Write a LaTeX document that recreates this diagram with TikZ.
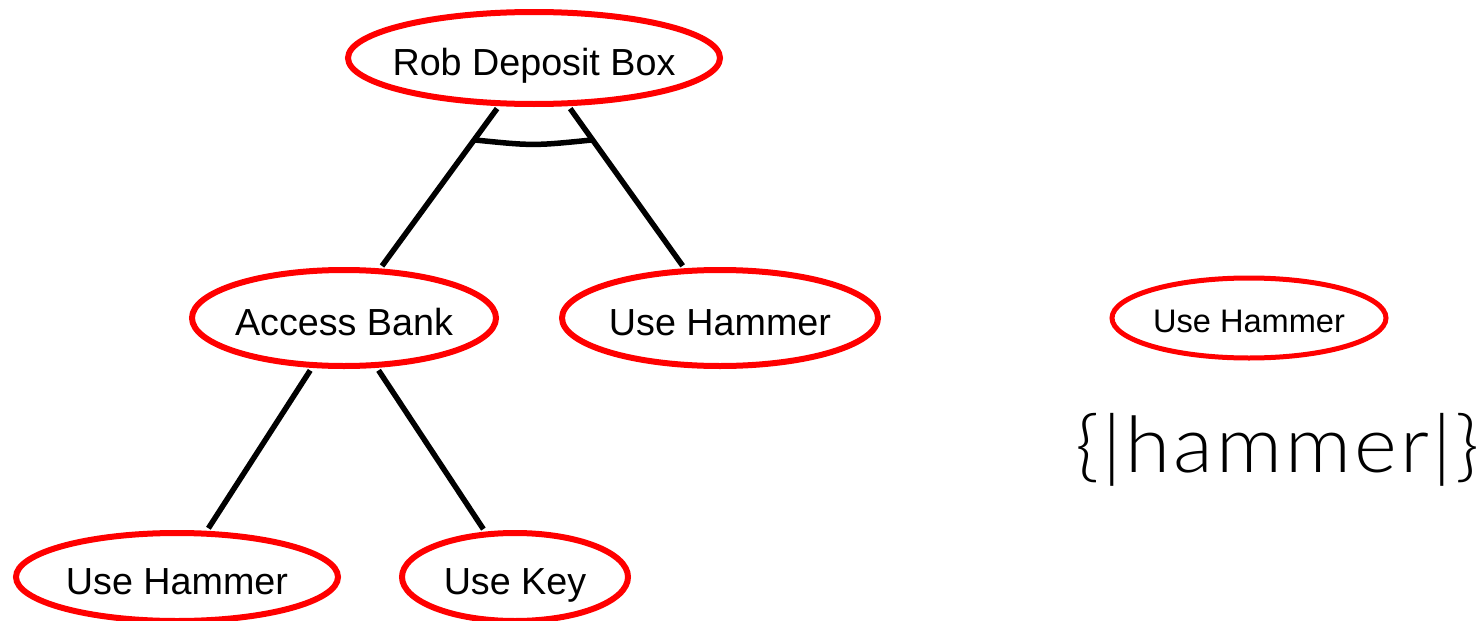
\documentclass[tikz,border=0pt]{standalone}
\usepackage{fontspec}
\setmainfont{Liberation Sans}
\newfontfamily\setfont[FakeStretch=1.05, LetterSpace=4]{Lato Light}
\usetikzlibrary{shapes.geometric,calc}

\newcommand{\zw}[1]{\makebox[0pt]{#1}}

\tikzset{
  goal/.style={ellipse, draw=red, line width=6pt, fill=white, inner sep=0pt,
    text height=34pt, text depth=0pt,
    font=\fontsize{37.7}{40}\selectfont},
  smallgoal/.style={goal, line width=5pt, text height=29pt, font=\fontsize{32.6}{35}\selectfont},
  link/.style={draw=black, line width=5.5pt, shorten <=3pt, shorten >=3pt}
}

\begin{document}
\begin{tikzpicture}[x=1pt, y=-1pt]
  \useasboundingbox (0,0) rectangle (1484,621);

  % decomposition tree
  \node[goal, minimum width=372pt, minimum height=92pt] (rob) at (534,58) {\zw{Rob Deposit Box}};
  \node[goal, minimum width=304pt, minimum height=96pt] (access) at (344,318) {\zw{Access Bank}};
  \node[goal, minimum width=316pt, minimum height=96pt] (hammerA) at (720,318) {\zw{Use Hammer}};
  \node[goal, minimum width=322pt, minimum height=88pt] (hammerB) at (177,577) {\zw{Use Hammer}};
  \node[goal, minimum width=226pt, minimum height=88pt] (key) at (515,577) {\zw{Use Key}};

  \draw[link] (rob) -- (access);
  \draw[link] (rob) -- (hammerA);
  \draw[link] (access) -- (hammerB);
  \draw[link] (access) -- (key);

  % AND arc across the two subgoal links
  \path (rob.center) -- (access.center) coordinate[pos=0.315] (andL);
  \path (rob.center) -- (hammerA.center) coordinate[pos=0.315] (andR);
  \draw[line width=5.5pt] (andL) .. controls ($(andL)!0.5!(andR)+(0,6)$) .. (andR);

  % single goal and its set
  \node[smallgoal, minimum width=274pt, minimum height=80pt] (hammerC) at (1249,318) {\zw{Use Hammer}};
  \node[anchor=base, inner sep=0pt, font=\setfont\fontsize{78}{80}\selectfont] (set) at (1277.5,472) {\{|hammer|\}};
\end{tikzpicture}
\end{document}
